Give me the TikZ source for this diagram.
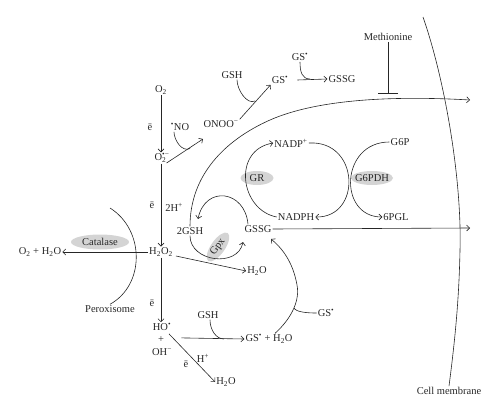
\documentclass[tikz,border=0pt]{standalone}
\usepackage{fontspec}
\setmainfont{Liberation Serif}
\usetikzlibrary{arrows.meta,calc,backgrounds}
\begin{document}
\begin{tikzpicture}[x=1pt,y=-1pt,
  every node/.style={font=\fontsize{10.5}{12}\selectfont, inner sep=1pt, text=black!85},
  ln/.style={draw=black!85, line width=0.6pt},
  arr/.style={ln, -{Straight Barb[length=3pt,width=6pt]}},
  enzfill/.style={fill=black!17}
]
\useasboundingbox (0,0) rectangle (500,412);

% nodes
\node (O2) at (161,90) {O\textsubscript{2}};
\node (e1) at (150,127) {ē};
\node (NO) at (180,127) {\textsuperscript{•}NO};
\node (O2m) at (162,158) {O\rlap{\textsubscript{2}}\textsuperscript{•−}};
\node (ONOO) at (221,124) {ONOO\textsuperscript{−}};
\node (GSHa) at (232,75) {GSH};
\node (GSa) at (280,80) {GS\textsuperscript{•}};
\node (GSb) at (300,57) {GS\textsuperscript{•}};
\node (GSSGa) at (342,79) {GSSG};
\node (Meth) at (388,37) {Methionine};
\node (e2) at (152,205) {ē};
\node (Hp2) at (174,207) {2H\textsuperscript{+}};
\node (GSH2) at (190,231) {2GSH};
\node (GSSG) at (258,229) {GSSG};
\node (GR) at (257,178) {GR};
\node (NADPp) at (291,143) {NADP\textsuperscript{+}};
\node (NADPH) at (296,217) {NADPH};
\node (G6P) at (400,142) {G6P};
\node (PGL) at (396,217) {6PGL};
\node (G6PDH) at (372,178) {G6PDH};
\node (H2O2) at (161,252) {H\textsubscript{2}O\textsubscript{2}};
\node (Cat) at (100,242) {Catalase};
\node (O2H2O) at (40,252) {O\textsubscript{2} + H\textsubscript{2}O};
\node (Perox) at (110,309) {Peroxisome};
\node (H2Oa) at (257,271) {H\textsubscript{2}O};
\node[rotate=55] (Gpx) at (218,247) {Gpx};
\node (e3) at (152,303) {ē};
\node (HO) at (162,327) {HO\textsuperscript{•}};
\node (plus) at (161,340) {+};
\node (OH) at (162,352) {OH\textsuperscript{−}};
\node (GSHb) at (208,315) {GSH};
\node (GSH2O) at (269,339) {GS\textsuperscript{•} + H\textsubscript{2}O};
\node (GSc) at (326,313) {GS\textsuperscript{•}};
\node (e4) at (186,364) {ē};
\node (Hp) at (203,358) {H\textsuperscript{+}};
\node (H2Ob) at (226,382) {H\textsubscript{2}O};
\node (Cell) at (449,391) {Cell membrane};

% enzyme ellipses
\begin{scope}[on background layer]
\fill[enzfill] (GR.center) ellipse (16.5 and 7);
\fill[enzfill] (G6PDH.center) ellipse (21 and 7);
\fill[enzfill] (Cat.center) ellipse (29 and 7.5);
\fill[enzfill, rotate around={55:(Gpx.center)}] (Gpx.center) ellipse (17 and 7);
\end{scope}

% junction coordinates
\coordinate (onooin) at (203,139);
\coordinate (m1) at (190,148.5);
\coordinate (m2) at (255,101);
\coordinate (m3) at (310,79);
\coordinate (inh) at (388,94);
\coordinate (toparr) at (470,100);
\coordinate (rarr) at (470,228);
\coordinate (gssgin) at (243,242);
\coordinate (gshin) at (198,219);
\coordinate (pxtop) at (110,208);
\coordinate (m4) at (224,339);
\coordinate (gssgbot) at (271,239);
\coordinate (m5) at (294,308);
\coordinate (memtop) at (423,17);

% upper left chain
\draw[arr] (O2.south) -- (O2.south |- O2m.north);
\draw[arr] ($(O2m.east)+(-4,5)$) -- (onooin);
\draw[ln] ($(NO.south)+(-6,0)$) .. controls +(0,8) and +(-8,4) .. (m1);
\draw[arr] (ONOO.north east) -- (GSa.south west);
\draw[ln] ($(GSHa.south)+(5,0)$) .. controls +(0,10) and +(-8,4) .. (m2);
\draw[arr] ($(GSa.east)+(8,0)$) -- (GSSGa.west);
\draw[ln] (GSb.south) .. controls +(0,10) and +(-8,0) .. (m3);
\draw[ln, -{Bar[width=20pt]}] (Meth.south) -- (inh);

% big arc from 2GSH
\draw[arr] (GSH2.north) .. controls (190,175) and (225,140) .. (270,120)
  .. controls (320,98) and (400,96) .. (toparr);
% Gpx arc 2GSH -> GSSG
\draw[arr] (GSH2.south) .. controls (190,262) and (238,268) .. (gssgin);
% GR arc GSSG -> 2GSH
\draw[arr] ($(GSSG.north)+(-10,0)$) .. controls (245,190) and (205,185) .. (gshin);
% NADPH -> NADP+
\draw[arr] (NADPH.west) .. controls (240,210) and (232,150) .. (NADPp.west);
% NADP+ -> NADPH
\draw[arr] (NADPp.east) .. controls (360,140) and (362,218) .. (NADPH.east);
% G6P -> 6PGL
\draw[arr] (G6P.west) .. controls (340,142) and (338,217) .. (PGL.west);
% GSSG export
\draw[arr] (GSSG.east) -- (rarr);

% H2O2 part
\draw[arr] (O2.south |- O2m.south) -- (O2.south |- H2O2.north);
\draw[arr] (H2O2.west) -- (O2H2O.east);
\draw[ln] (pxtop) .. controls (145,230) and (145,285) .. (Perox.north);
\draw[arr] ($(H2O2.east)+(2,4)$) -- (H2Oa.west);
\draw[arr] (H2O2.south) -- (H2O2.south |- HO.north);

% hydroxyl radical part
\draw[arr] ($(HO.south east)+(9,6)$) -- (GSH2O.west);
\draw[ln] ($(GSHb.south)+(2,0)$) .. controls +(0,10) and +(-8,0) .. (m4);
\draw[arr] ($(HO.south)+(7,2)$) -- (H2Ob.west);
\draw[arr] ($(GSH2O.north)+(6,0)$) .. controls (292,318) and (300,300) .. (297,285)
  .. controls (293,262) and (282,248) .. (gssgbot);
\draw[ln] (GSc.west) .. controls +(-10,0) and +(2,4) .. (m5);

% cell membrane
\draw[ln] (memtop) .. controls (445,80) and (462,180) .. (460,250)
  .. controls (459,300) and (455,340) .. (Cell.north);
\end{tikzpicture}
\end{document}
